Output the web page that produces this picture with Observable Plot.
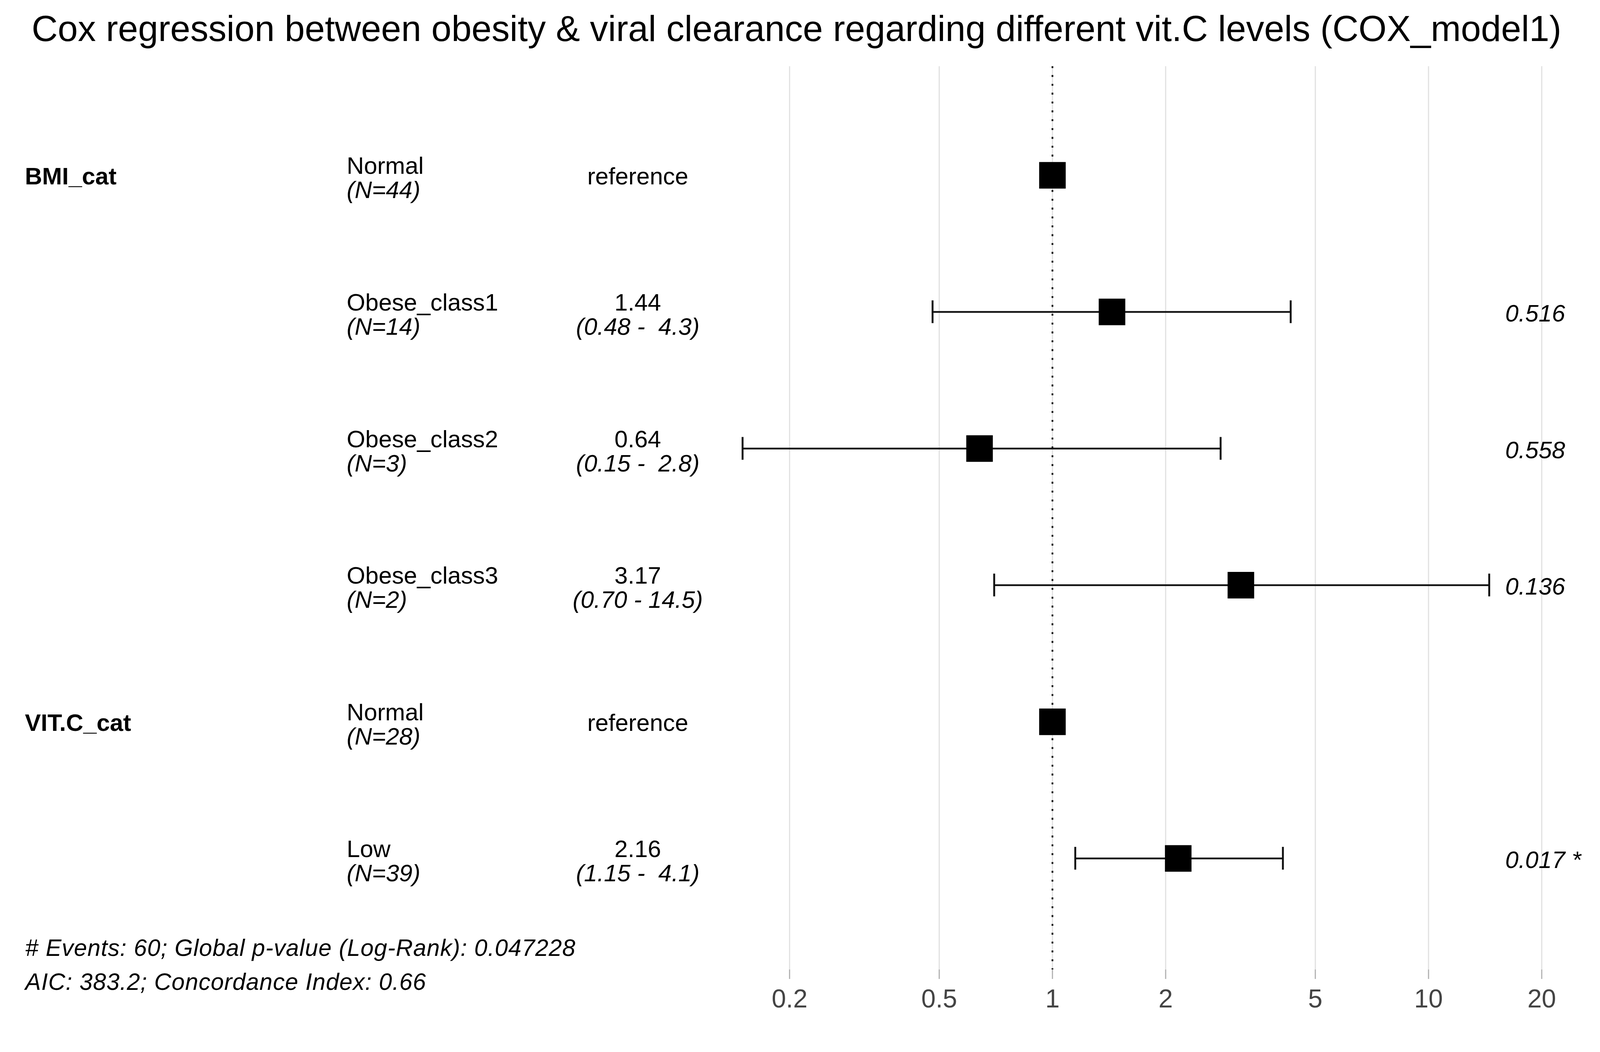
<!DOCTYPE html>
<html>
<head>
<meta charset="utf-8">
<script src="https://cdn.jsdelivr.net/npm/d3@7"></script>
<script src="https://cdn.jsdelivr.net/npm/@observablehq/plot@0.6"></script>
<style>
  html, body { margin: 0; padding: 0; background: #fff; overflow: hidden; }
  #title { position: relative; width: 4216px; height: 150px; }
  #title span { position: absolute; left: 81px; top: 0; line-height: 146px; white-space: nowrap;
           font-family: "Liberation Sans", Arial, sans-serif; font-size: 92.5px; color: #000; }
  #chart svg { display: block; }
</style>
</head>
<body>
<div id="title"><span>Cox regression between obesity &amp; viral clearance regarding different vit.C levels (COX_model1)</span></div>
<div id="chart"></div>
<script>
// ---- data ----
const rowVar   = ["BMI_cat", "BMI_cat", "BMI_cat", "BMI_cat", "VIT.C_cat", "VIT.C_cat"];
const levels   = ["Normal", "Obese_class1", "Obese_class2", "Obese_class3", "Normal", "Low"];
const nObs     = [44, 14, 3, 2, 28, 39];
const hr       = [1, 1.44, 0.64, 3.17, 1, 2.16];
const ciLow    = [null, 0.48, 0.15, 0.70, null, 1.15];
const ciHigh   = [null, 4.3, 2.8, 14.5, null, 4.1];
const estLabels = ["reference", "1.44", "0.64", "3.17", "reference", "2.16"];
const ciLabels  = ["", "(0.48 -  4.3)", "(0.15 -  2.8)", "(0.70 - 14.5)", "", "(1.15 -  4.1)"];
const pLabels   = ["", "0.516", "0.558", "0.136", "", "0.017 *"];
const xTicks    = [0.2, 0.5, 1, 2, 5, 10, 20];
const footnotes = ["# Events: 60; Global p-value (Log-Rank): 0.047228", "AIC: 383.2; Concordance Index: 0.66"];

// ---- table built from the arrays ----
const rows = levels.map((lev, i) => ({
  id: String(i),
  varLabel: (i === 0 || rowVar[i] !== rowVar[i - 1]) ? rowVar[i] : "",
  level: lev,
  nLabel: `(N=${nObs[i]})`,
  hr: hr[i],
  lo: ciLow[i],
  hi: ciHigh[i],
  est: estLabels[i],
  ci: ciLabels[i].replace(/  /g, " \u00a0"),
  p: pLabels[i]
}));
const withCI = rows.filter(d => d.lo != null);
const capRows = withCI.flatMap(d => [{id: d.id, x: d.lo}, {id: d.id, x: d.hi}]);
const refRows = rows.filter(d => d.lo == null);
const estRows = rows.filter(d => d.lo != null);

const FS = 63;
const chart = Plot.plot({
  width: 4216,
  height: 2543,
  marginLeft: 2080,
  marginRight: 154,
  marginTop: 20,
  marginBottom: 143,
  style: {fontFamily: "'Liberation Sans', Arial, sans-serif", background: "#fff", color: "#000"},
  x: {type: "log", domain: [0.2, 20], axis: null},
  y: {type: "band", domain: rows.map(d => d.id), padding: 0, insetTop: 104, insetBottom: 111, axis: null},
  marks: [
    Plot.ruleX(xTicks, {stroke: "#e0e0e0", strokeWidth: 3}),
    Plot.ruleX([1], {stroke: "#000", strokeWidth: 4.5, strokeDasharray: "5,18.3"}),
    Plot.axisX({ticks: xTicks, tickSize: 25, tickPadding: 26, stroke: "#b0b0b0", strokeWidth: 3,
                fill: "#444", fontSize: 68, label: null, tickFormat: d => String(d)}),
    // error bars
    Plot.ruleY(withCI, {y: "id", x1: "lo", x2: "hi", stroke: "#111", strokeWidth: 4.5}),
    Plot.tickX(capRows, {x: "x", y: "id", stroke: "#111", strokeWidth: 5, insetTop: 150, insetBottom: 150}),
    // point estimates
    Plot.dot(rows, {x: "hr", y: "id", symbol: "square", r: 39.5, fill: "#000", stroke: "none"}),
    // left text columns
    Plot.text(rows.filter(d => d.varLabel), {y: "id", text: "varLabel", frameAnchor: "left", dx: -2015, dy: 4,
      textAnchor: "start", fontSize: FS, fontWeight: "bold", fill: "#000"}),
    Plot.text(rows, {y: "id", text: "level", frameAnchor: "left", dx: -1167, dy: -24,
      textAnchor: "start", fontSize: FS, fill: "#000"}),
    Plot.text(rows, {y: "id", text: "nLabel", frameAnchor: "left", dx: -1167, dy: 40,
      textAnchor: "start", fontSize: FS, fontStyle: "italic", fill: "#000"}),
    Plot.text(refRows, {y: "id", text: "est", frameAnchor: "left", dx: -400, dy: 4,
      textAnchor: "middle", fontSize: FS, fill: "#000"}),
    Plot.text(estRows, {y: "id", text: "est", frameAnchor: "left", dx: -400, dy: -24,
      textAnchor: "middle", fontSize: FS, fill: "#000"}),
    Plot.text(estRows, {y: "id", text: "ci", frameAnchor: "left", dx: -400, dy: 40,
      textAnchor: "middle", fontSize: FS, fontStyle: "italic", fill: "#000"}),
    // p-values
    Plot.text(estRows, {y: "id", text: "p", frameAnchor: "left", dx: 1886, dy: 5,
      textAnchor: "start", fontSize: FS, fontStyle: "italic", fill: "#000"}),
    // footnotes
    Plot.text([footnotes[0]], {text: d => d, frameAnchor: "bottom-left", dx: -2014, dy: -56,
      textAnchor: "start", lineAnchor: "middle", fontSize: 62, fontStyle: "italic", fill: "#000"}),
    Plot.text([footnotes[1]], {text: d => d, frameAnchor: "bottom-left", dx: -2014, dy: 33,
      textAnchor: "start", lineAnchor: "middle", fontSize: 62, fontStyle: "italic", fill: "#000"})
  ]
});
d3.select(chart).selectAll("text")
  .filter(function () { return footnotes.includes(this.textContent); })
  .style("letter-spacing", "1.05px");
document.getElementById("chart").appendChild(chart);
</script>
</body>
</html>
